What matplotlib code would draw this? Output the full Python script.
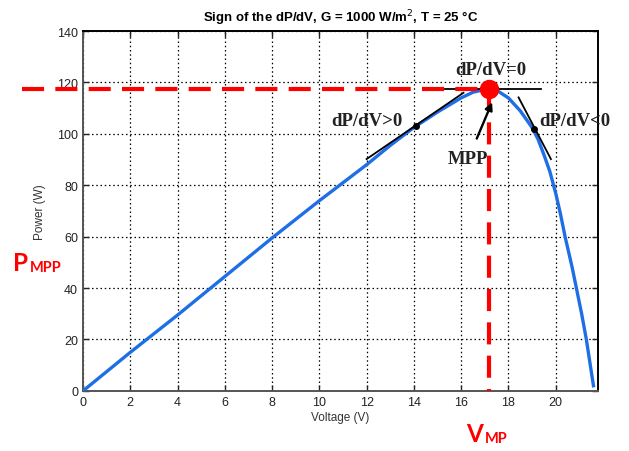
import matplotlib
matplotlib.use("Agg")
import matplotlib.pyplot as plt

# P-V curve
voltage = [0, 2, 4, 6, 8, 10, 12, 13, 14, 15, 16, 16.5, 17.1, 17.5, 18, 18.5,
           19, 19.25, 19.5, 19.75, 20, 20.2, 20.4, 20.7, 20.9, 21.1, 21.3, 21.45, 21.6]
power = [0, 15, 29.5, 44.5, 59.5, 74, 88, 95.5, 102.5, 108.5, 114, 116.2, 117.5, 117, 114, 109,
         102.5, 98, 92, 85.5, 77, 69, 60, 48, 39, 30, 20, 11, 2]

v_mpp = 17.2
p_mpp = 117.5

# tangent segments: (v0, p0, v1, p1) and touch points
tangents = [(12.0, 90.2, 16.1, 116.0), (15.3, 117.5, 19.4, 117.5), (18.43, 114.2, 19.8, 90.2)]
touch_v = [14.1, 19.07]
touch_p = [103.2, 102.0]

x_ticks = list(range(0, 21, 2))
y_ticks = list(range(0, 141, 20))

fig = plt.figure(figsize=(6.29, 4.52), dpi=100)
ax = fig.add_axes([0.132, 0.133, 0.819, 0.796])

ax.plot(voltage, power, color="#1e6fe6", lw=2.4, zorder=3)

for v0, p0, v1, p1 in tangents:
    ax.plot([v0, v1], [p0, p1], color="black", lw=1.3, zorder=4)
ax.plot(touch_v, touch_p, "o", color="black", ms=4, zorder=5)

ax.plot([-2.6, v_mpp], [p_mpp, p_mpp], color="#ff0000", lw=3, ls=(0, (5.3, 2.7)),
        clip_on=False, zorder=6)
ax.plot([v_mpp, v_mpp], [p_mpp, 0], color="#ff0000", lw=3, ls=(0, (5.3, 2.7)),
        clip_on=False, zorder=6)
ax.plot([v_mpp], [p_mpp], "o", color="#ff0000", ms=13, zorder=7, clip_on=False)

serif = dict(family="Liberation Serif", weight="bold", fontsize=13.5, color="#222222")
ax.text(17.24, 125.0, "dP/dV=0", ha="center", va="center", **serif)
ax.text(12.0, 105.3, "dP/dV>0", ha="center", va="center", **serif)
ax.text(19.3, 105.3, "dP/dV<0", ha="left", va="center", clip_on=False, **serif)
ax.annotate("MPP", xy=(17.31, 112.3), xytext=(16.3, 90.3), ha="center", va="center",
            arrowprops=dict(arrowstyle="-|>", color="black", lw=1.7, shrinkA=7, shrinkB=0,
                            mutation_scale=11),
            zorder=8, **serif)

ax.set_xlim(0, 21.8)
ax.set_ylim(0, 140)
ax.set_xticks(x_ticks)
ax.set_yticks(y_ticks)
ax.grid(True, color="black", ls=(0, (1.2, 2.2)), lw=0.9)
ax.tick_params(direction="in", length=4, width=1, labelsize=9, colors="#222222",
               top=True, right=True)
for lab in ax.get_xticklabels() + ax.get_yticklabels():
    lab.set_family("Liberation Sans")
for side in ["left", "bottom"]:
    ax.spines[side].set_color("#555555")
    ax.spines[side].set_linewidth(1.4)
for side in ["top", "right"]:
    ax.spines[side].set_color("black")
    ax.spines[side].set_linewidth(1.4)

ax.set_xlabel("Voltage (V)", family="Liberation Sans", fontsize=8.5, color="#333333", labelpad=2)
ax.set_ylabel("Power (W)", family="Liberation Sans", fontsize=8.5, color="#333333", labelpad=8)
ax.set_title("Sign of the dP/dV, G = 1000 W/m$^2$, T = 25 °C", family="Liberation Sans",
             weight="bold", fontsize=9.5, pad=7)

lbl = dict(family="Lato", weight="bold", color="#ff0000")
fig.text(13 / 629, 1 - 271 / 452, "P", fontsize=17.5, ha="left", va="baseline", **lbl)
fig.text(30 / 629, 1 - 272 / 452, "MPP", fontsize=10.5, ha="left", va="baseline", **lbl)
fig.text(466 / 629, 1 - 442 / 452, "V", fontsize=17.5, ha="left", va="baseline", **lbl)
fig.text(485 / 629, 1 - 443 / 452, "MP", fontsize=10.5, ha="left", va="baseline", **lbl)

fig.savefig("out.png", dpi=100)
